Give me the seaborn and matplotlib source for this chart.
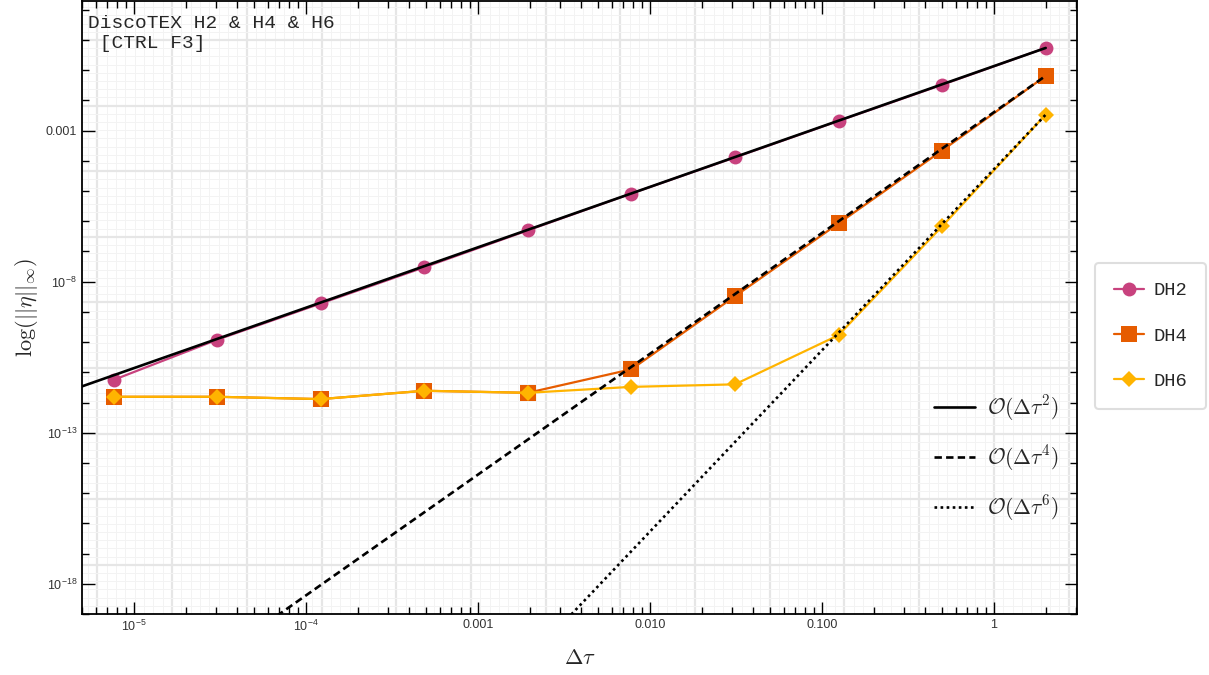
import numpy as np
import pandas as pd
import matplotlib
matplotlib.use("Agg")
import matplotlib.pyplot as plt
from matplotlib.ticker import FixedLocator, NullFormatter
import seaborn as sns

# step sizes and max errors
dtau = [2.0, 0.5, 0.125, 0.03125, 0.0078125, 0.001953125,
        0.00048828125, 0.0001220703125, 3.0517578125e-05, 7.62939453125e-06]
err_dh2 = [5.5e-1, 3.3e-2, 2.1e-3, 1.3e-4, 8.3e-6, 5.0e-7, 3.0e-8, 1.9e-9, 1.2e-10, 5.6e-12]
err_dh4 = [6.5e-2, 2.2e-4, 8.5e-7, 3.3e-9, 1.26e-11, 2.1e-12, 2.45e-12, 1.3e-12, 1.55e-12, 1.55e-12]
err_dh6 = [3.4e-3, 6.8e-7, 1.7e-10, 4.0e-12, 3.3e-12, 2.1e-12, 2.45e-12, 1.3e-12, 1.55e-12, 1.55e-12]

# reference slopes: C * dtau^p
ref_orders = [2, 4, 6]
ref_coefs = [0.137, 4.08e-3, 5.3e-5]
ref_labels = [r"$\mathcal{O}(\Delta\tau^2)$", r"$\mathcal{O}(\Delta\tau^4)$", r"$\mathcal{O}(\Delta\tau^6)$"]

series_names = ["DH2", "DH4", "DH6"]
series_colors = ["#C8427E", "#E65C00", "#FFB400"]
series_markers = ["o", "s", "D"]
series_ms = [10, 11, 8.5]

x_ticks = [1e-5, 1e-4, 1e-3, 1e-2, 1e-1, 1]
x_ticklabels = [r"$10^{-5}$", r"$10^{-4}$", "0.001", "0.010", "0.100", "1"]
y_ticks = [1e-18, 1e-13, 1e-8, 1e-3]
y_ticklabels = [r"$10^{-18}$", r"$10^{-13}$", r"$10^{-8}$", "0.001"]

xlim = (5.0e-6, 3.04)
ylim = (10 ** -19.0, 10 ** 1.29)

sns.set_style("ticks")
plt.rcParams["font.family"] = ["Liberation Sans", "DejaVu Sans"]
plt.rcParams["mathtext.fontset"] = "cm"
plt.rcParams["mathtext.rm"] = "Liberation Sans"
plt.rcParams["mathtext.it"] = "Liberation Sans:italic"
plt.rcParams["mathtext.sf"] = "Liberation Sans"

df = pd.DataFrame({"dtau": dtau, "DH2": err_dh2, "DH4": err_dh4, "DH6": err_dh6})

fig = plt.figure(figsize=(12.09, 6.75), dpi=100)
ax = fig.add_axes([0.0678, 0.0904, 0.8230, 0.9080])
ax.set_xscale("log")
ax.set_yscale("log")
ax.set_xlim(*xlim)
ax.set_ylim(*ylim)

# grid lines at powers of e (major) with finer subdivisions
for k in np.arange(-14, 2, 1 / 8):
    major = abs(k - round(k)) < 1e-9
    ax.axvline(np.exp(k), color="#e6e6e6" if major else "#f3f3f3",
               lw=1.6 if major else 0.7, zorder=0)
for k in np.arange(-45, 4, 5 / 8):
    major = abs(k / 5 - round(k / 5)) < 1e-9
    ax.axhline(np.exp(k), color="#e6e6e6" if major else "#f3f3f3",
               lw=1.6 if major else 0.7, zorder=0)

for name, col, mk, ms in zip(series_names, series_colors, series_markers, series_ms):
    sns.lineplot(data=df, x="dtau", y=name, ax=ax, color=col, marker=mk,
                 markersize=ms, markeredgecolor=col, markeredgewidth=0,
                 lw=1.6, label=name, zorder=2)

x_ref = [xlim[0], dtau[0]]
ref_styles = ["-", (0, (2.8, 1.6)), (0, (1, 1.3))]
for p, c, lab, ls in zip(ref_orders, ref_coefs, ref_labels, ref_styles):
    sns.lineplot(x=x_ref, y=[c * xv ** p for xv in x_ref], ax=ax, color="black",
                 lw=1.9, linestyle=ls, label=lab, zorder=3)

handles, labels = ax.get_legend_handles_labels()
if ax.legend_:
    ax.legend_.remove()

leg1 = fig.legend(handles[:3], labels[:3], loc="center left",
                  bbox_to_anchor=(1095 / 1209, 1 - 336 / 675),
                  prop={"family": "Liberation Mono", "size": 13.5},
                  frameon=True, fancybox=True, edgecolor="#d6d6d6",
                  labelspacing=1.5, handlelength=1.6, handletextpad=0.5,
                  borderpad=1.0, borderaxespad=0)
leg1.get_frame().set_linewidth(1.5)

leg2 = ax.legend(handles[3:], labels[3:], loc="center",
                 bbox_to_anchor=(996 / 1209, 1 - 458 / 675),
                 bbox_transform=fig.transFigure, frameon=False,
                 fontsize=15.5, labelspacing=0.95, handlelength=1.9,
                 handletextpad=0.55)

# ticks
ax.xaxis.set_major_locator(FixedLocator(x_ticks))
ax.set_xticklabels(x_ticklabels)
ax.xaxis.set_minor_locator(FixedLocator(
    [m * 10.0 ** e for e in range(-6, 1) for m in range(2, 10)]))
ax.xaxis.set_minor_formatter(NullFormatter())
ax.yaxis.set_major_locator(FixedLocator(y_ticks))
ax.set_yticklabels(y_ticklabels)
ax.yaxis.set_minor_locator(FixedLocator([10.0 ** e for e in range(-19, 2)]))
ax.yaxis.set_minor_formatter(NullFormatter())
ax.tick_params(which="both", direction="in", top=True, right=True,
               colors="black", labelcolor="#333333", labelsize=9)
ax.tick_params(which="major", length=9, width=1)
ax.tick_params(which="minor", length=5, width=1)
for lbl in ax.get_xticklabels() + ax.get_yticklabels():
    lbl.set_math_fontfamily("custom")
for sp in ax.spines.values():
    sp.set_linewidth(1.3)
    sp.set_color("black")

ax.set_xlabel(r"$\Delta\tau$", fontsize=16, labelpad=10)
ax.set_ylabel(r"$\log(||\eta||_\infty)$", fontsize=16, labelpad=4)

ax.text(0.006, 0.978, "DiscoTEX H2 & H4 & H6\n [CTRL F3]", transform=ax.transAxes,
        family="Liberation Mono", fontsize=14, va="top", ha="left", linespacing=1.3)

fig.savefig("out.png", dpi=100)
